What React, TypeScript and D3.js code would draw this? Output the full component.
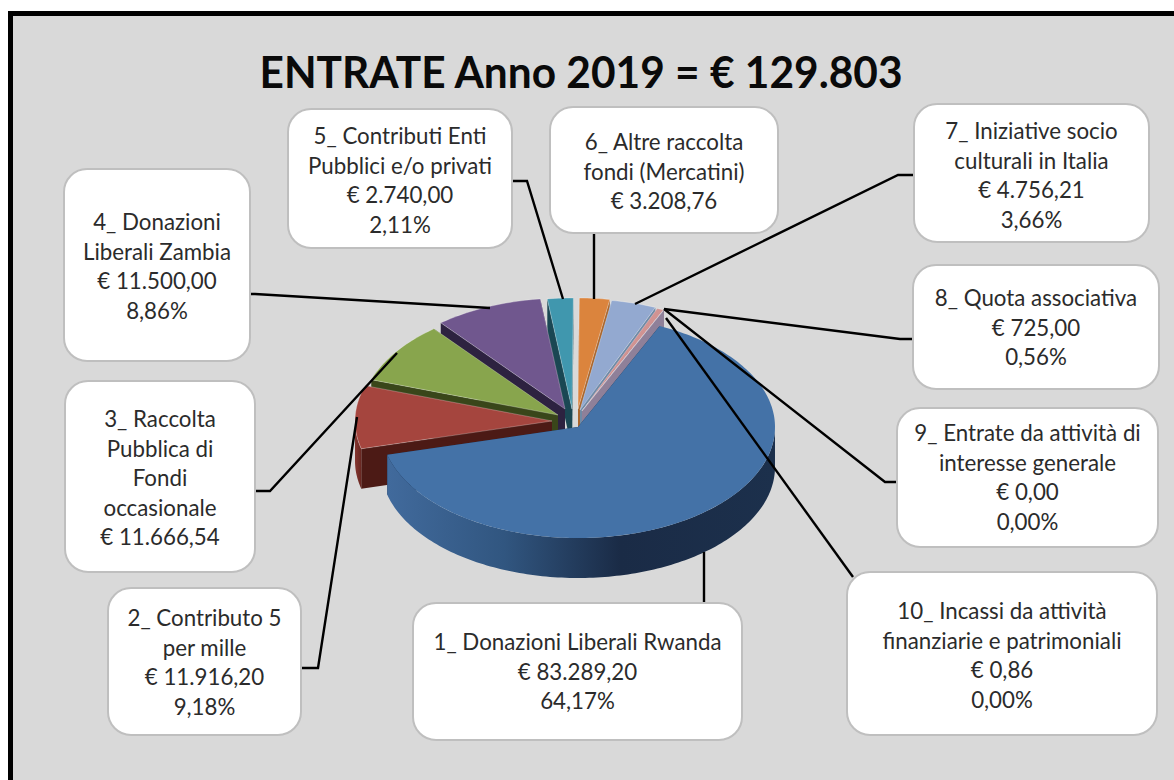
import React from "react";
import * as d3 from "d3";

const titleText = "ENTRATE Anno 2019 = € 129.803";
const sliceValues = [83289.2, 11916.2, 11666.54, 11500, 2740, 3208.76, 4756.21, 725, 0, 0.86];
const labelLines = [
  ["1_ Donazioni Liberali Rwanda", "€ 83.289,20", "64,17%"],
  ["2_ Contributo 5", "per mille", "€ 11.916,20", "9,18%"],
  ["3_ Raccolta", "Pubblica di", "Fondi", "occasionale", "€ 11.666,54"],
  ["4_ Donazioni", "Liberali Zambia", "€ 11.500,00", "8,86%"],
  ["5_ Contributi Enti", "Pubblici e/o privati", "€ 2.740,00", "2,11%"],
  ["6_ Altre raccolta", "fondi (Mercatini)", "€ 3.208,76"],
  ["7_ Iniziative socio", "culturali in Italia", "€ 4.756,21", "3,66%"],
  ["8_ Quota associativa", "€ 725,00", "0,56%"],
  ["9_ Entrate da attività di", "interesse generale", "€ 0,00", "0,00%"],
  ["10_ Incassi da attività", "finanziarie e patrimoniali", "€ 0,86", "0,00%"],
];
const topColors = ["#4472a7", "#a5453e", "#88a54d", "#70578e", "#4097ae", "#db843d", "#93a9d0", "#d19392", "#a47d7c", "#b5ca92"];
const wallColors = ["#1b2d48", "#4c1a15", "#39461a", "#2d2240", "#1a4753", "#a9652c", "#6f8aa6", "#8f8099", "#8f8099", "#8f8099"];

// layout (separate from values)
const sliceCenters: [number, number][] = [
  [578, 427], [552, 421], [558, 415], [565, 409], [572, 409],
  [578, 409], [580, 410], [582, 411], [582, 411], [582, 411],
];
const boxes = [
  [413, 603, 329, 137], [108, 588, 193, 147], [65, 381, 190, 191], [64, 169, 186, 192], [288, 109, 224, 139],
  [550, 107, 228, 126], [914, 104, 235, 138], [913, 265, 246, 124], [897, 408, 261, 139], [847, 572, 310, 163],
];
const firstBaselines = [650, 626, 427, 230, 144, 150, 139, 306, 441, 619];
const lineGap = 29.6;
const leaders: [number, number][][] = [
  [[704, 603], [704, 552]],
  [[301, 668], [318, 668], [357, 417]],
  [[255, 491], [270, 491], [397, 353]],
  [[250, 294], [255, 294], [490, 308]],
  [[512, 181], [527, 181], [563, 299]],
  [[594, 233], [594, 299]],
  [[914, 175], [898, 175], [635, 304]],
  [[913, 339], [900, 339], [664, 309]],
  [[897, 482], [885, 482], [664, 309]],
  [[853, 577], [666, 318]],
];

const RX = 197;
const RY = 111;
const DEPTH = 40;
const START = (24.5 * Math.PI) / 180;

const pie = d3.pie<number>().sort(null).startAngle(START).endAngle(START + 2 * Math.PI);
const arcs = pie(sliceValues);

const rimX = d3.scaleLinear().domain([-1, 1]).range([-RX, RX]);
const rimY = d3.scaleLinear().domain([-1, 1]).range([RY, -RY]);
const pt = (c: [number, number], a: number, dy = 0): [number, number] => [
  c[0] + rimX(Math.sin(a)),
  c[1] + rimY(Math.cos(a)) + dy,
];
const lineGen = d3.line();
const rim = (c: [number, number], a0: number, a1: number, dy = 0) => {
  const n = Math.max(2, Math.ceil(Math.abs(a1 - a0) / 0.02));
  return d3.range(n + 1).map((i) => pt(c, a0 + ((a1 - a0) * i) / n, dy));
};
const topPath = (c: [number, number], a0: number, a1: number) =>
  lineGen([c, ...rim(c, a0, a1)]) + "Z";
const sidePath = (c: [number, number], a: number) =>
  lineGen([c, pt(c, a), pt(c, a, DEPTH), [c[0], c[1] + DEPTH]]) + "Z";
const outerPath = (c: [number, number], a0: number, a1: number) => {
  const lo = Math.max(a0, Math.PI / 2);
  const hi = Math.min(a1, (3 * Math.PI) / 2);
  if (hi <= lo) return null;
  return lineGen([...rim(c, lo, hi), ...rim(c, hi, lo, DEPTH)]) + "Z";
};

// painter's order: back-left slices, then back-right ones, front slice last
const order = [4, 3, 2, 1, 5, 6, 7, 8, 9, 0];
const FONT = "Lato, Carlito, sans-serif";

export default function App() {
  return (
    <svg width={1174} height={780} style={{ position: "absolute", left: 0, top: 0, background: "#fff" }}>
      <defs>
        <linearGradient id="wall0" gradientUnits="userSpaceOnUse" x1={388} x2={775} y1={0} y2={0}>
          <stop offset="0" stopColor="#416a9c" />
          <stop offset="0.3" stopColor="#315680" />
          <stop offset="0.6" stopColor="#1a2b46" />
          <stop offset="1" stopColor="#1c304c" />
        </linearGradient>
        <linearGradient id="wall1" gradientUnits="userSpaceOnUse" x1={354} x2={364} y1={0} y2={0}>
          <stop offset="0" stopColor="#8a3832" />
          <stop offset="1" stopColor="#5a211b" />
        </linearGradient>
      </defs>
      <rect x={10.5} y={13.5} width={1180} height={780} fill="#d9d9d9" stroke="#000" strokeWidth={5} />
      <text x={581} y={88} textAnchor="middle" fontFamily={FONT} fontWeight={700} fontSize={43} fill="#0a0a0a"
        textLength={643} lengthAdjust="spacingAndGlyphs">
        {titleText}
      </text>

      {order.map((i) => {
        const a = arcs[i];
        const c = sliceCenters[i];
        const outer = outerPath(c, a.startAngle, a.endAngle);
        return (
          <g key={i}>
            <path d={sidePath(c, a.startAngle)} fill={wallColors[i]} />
            <path d={sidePath(c, a.endAngle)} fill={wallColors[i]} />
            {outer && <path d={outer} fill={i < 2 ? `url(#wall${i})` : wallColors[i]} />}
            <path d={topPath(c, a.startAngle, a.endAngle)} fill={topColors[i]}
              stroke={i === 0 ? "none" : "#fff"} strokeOpacity={0.35} strokeWidth={0.8} />
          </g>
        );
      })}

      {leaders.map((pts, i) => (
        <path key={i} d={lineGen(pts) as string} fill="none" stroke="#000" strokeWidth={2.4} />
      ))}

      {boxes.map(([x, y, w, h], i) => (
        <g key={i}>
          <rect x={x} y={y} width={w} height={h} rx={23} ry={23} fill="#fff" stroke="#bfbfbf" strokeWidth={2} />
          {labelLines[i].map((t, j) => (
            <text key={j} x={x + w / 2} y={firstBaselines[i] + j * lineGap} textAnchor="middle"
              fontFamily={FONT} fontSize={22.3} fill="#2b2b2b">
              {t}
            </text>
          ))}
        </g>
      ))}
    </svg>
  );
}
